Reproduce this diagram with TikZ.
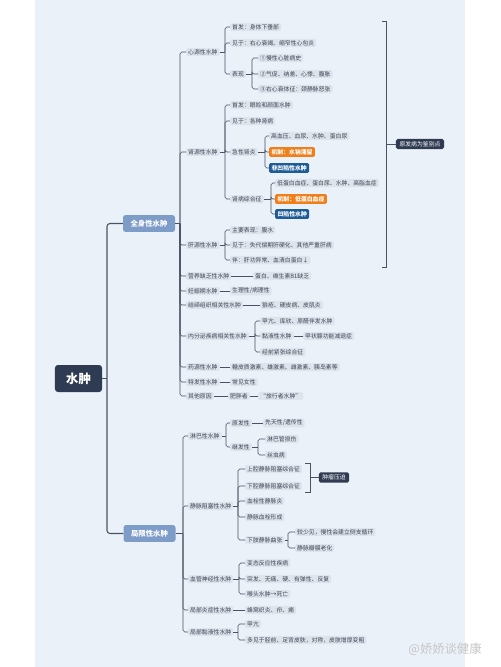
\documentclass[tikz,border=0pt]{standalone}
\usepackage{fontspec}
\setmainfont{Noto Sans CJK SC}
\usepackage{tikz}
\definecolor{panelbg}{HTML}{EBF1F8}
\definecolor{chipbg}{HTML}{DEE4EC}
\definecolor{inkgrey}{HTML}{3C4453}
\definecolor{linkgrey}{HTML}{4A5263}
\definecolor{rootnavy}{HTML}{2E3B52}
\definecolor{steelblue}{HTML}{7D9CC8}
\definecolor{mechorange}{HTML}{F07F1A}
\definecolor{pitblue}{HTML}{1D5C97}

\tikzset{
  chip/.style={anchor=west, fill=chipbg, text=inkgrey, rounded corners=1.2pt,
    inner xsep=1.7pt, inner ysep=1.1pt, font=\fontsize{5}{6}\selectfont},
  mech/.style={chip, fill=mechorange, text=white, inner xsep=2pt, inner ysep=1.8pt,
    font=\bfseries\fontsize{5}{6}\selectfont},
  pit/.style={mech, fill=pitblue},
  tag/.style={fill=rootnavy, text=white, rounded corners=1.5pt, inner xsep=3pt,
    inner ysep=2pt, font=\fontsize{5}{6}\selectfont},
  lvl1/.style={fill=steelblue, text=white, rounded corners=2pt, inner sep=0pt,
    minimum width=1.56cm, minimum height=0.5cm, font=\bfseries\fontsize{6.3}{7}\selectfont},
  root/.style={fill=rootnavy, text=white, rounded corners=2.5pt, inner sep=0pt,
    minimum width=1.41cm, minimum height=0.81cm, font=\bfseries\fontsize{10.5}{12}\selectfont},
  link/.style={draw=linkgrey, line width=0.55pt},
  trunk/.style={draw=linkgrey, line width=0.9pt}
}

\begin{document}
\begin{tikzpicture}[x=0.03cm, y=-0.03cm]
  \useasboundingbox (0,0) rectangle (500,667);
  \fill[panelbg] (35,0) rectangle (465,667);

  % root and first level
  \node[root] (sz) at (78.5,378.5) {水肿};
  \node[lvl1] (qs) at (149,223.5) {全身性水肿};
  \node[lvl1] (jx) at (149.5,533.5) {局限性水肿};

  % 全身性水肿
  \node[chip] (xy) at (186,52) {心源性水肿};
  \node[chip] (sy) at (186,152) {肾源性水肿};
  \node[chip] (gy) at (186,245) {肝源性水肿};
  \node[chip] (yy) at (186,276) {营养缺乏性水肿};
  \node[chip] (rs) at (186,291) {妊娠期水肿};
  \node[chip] (jd) at (186,305) {结缔组织相关性水肿};
  \node[chip] (nf) at (186,336) {内分泌疾病相关性水肿};
  \node[chip] (ywx) at (186,367) {药源性水肿};
  \node[chip] (tf) at (186,382) {特发性水肿};
  \node[chip] (qt) at (186,396) {其他原因};

  \node[chip] (xy1) at (230,27) {首发：身体下垂部};
  \node[chip] (xy2) at (230,43) {见于：右心衰竭、缩窄性心包炎};
  \node[chip] (xy3) at (230,74) {表现};
  \node[chip] (xy31) at (258,58) {①慢性心脏病史};
  \node[chip] (xy32) at (258,74) {②气促、纳差、心悸、腹胀};
  \node[chip] (xy33) at (258,89) {③右心衰体征：颈静脉怒张};

  \node[chip] (sy1) at (230,105) {首发：眼睑和颜面水肿};
  \node[chip] (sy2) at (230,121) {见于：各种肾病};
  \node[chip] (sy3) at (230,152) {急性肾炎};
  \node[chip] (sy4) at (230,199) {肾病综合征};
  \node[chip] (sy31) at (269,136) {高血压、血尿、水肿、蛋白尿};
  \node[mech] (sy32) at (269,152) {机制：水钠潴留};
  \node[pit] (sy33) at (269,168) {非凹陷性水肿};
  \node[chip] (sy41) at (275,183) {低蛋白血症、蛋白尿、水肿、高脂血症};
  \node[mech] (sy42) at (275,199) {机制：低蛋白血症};
  \node[pit] (sy43) at (275,214) {凹陷性水肿};

  \node[chip] (gy1) at (230,230) {主要表现：腹水};
  \node[chip] (gy2) at (230,245) {见于：失代偿期肝硬化、其他严重肝病};
  \node[chip] (gy3) at (230,260) {伴：肝功异常、血清白蛋白↓};

  \node[chip] (yy1) at (253,276) {蛋白、维生素B1缺乏};
  \node[chip] (rs1) at (230,291) {生理性/病理性};
  \node[chip] (jd1) at (260,305) {狼疮、硬皮病、皮肌炎};
  \node[chip] (nf1) at (260,321) {甲亢、库欣、原醛伴发水肿};
  \node[chip] (nf2) at (260,336) {黏液性水肿};
  \node[chip] (nf3) at (260,352) {经前紧张综合征};
  \node[chip] (nf21) at (303,336) {甲状腺功能减退症};
  \node[chip] (ywx1) at (230,367) {糖皮质激素、雄激素、雌激素、胰岛素等};
  \node[chip] (tf1) at (230,382) {常见女性};
  \node[chip] (qt1) at (228,396) {肥胖者};
  \node[chip] (qt2) at (258,396) {“旅行者水肿”};

  % 局限性水肿
  \node[chip] (lb) at (188,436) {淋巴性水肿};
  \node[chip] (jm) at (188,506) {静脉阻塞性水肿};
  \node[chip] (xg) at (188,579) {血管神经性水肿};
  \node[chip] (yz) at (188,610) {局部炎症性水肿};
  \node[chip] (nx) at (188,632) {局部黏液性水肿};

  \node[chip] (lb1) at (230,423) {原发性};
  \node[chip] (lb2) at (230,447) {继发性};
  \node[chip] (lb11) at (263,423) {先天性/遗传性};
  \node[chip] (lb21) at (265,439) {淋巴管损伤};
  \node[chip] (lb22) at (265,455) {丝虫病};

  \node[chip] (jm1) at (245,469) {上腔静脉阻塞综合征};
  \node[chip] (jm2) at (245,486) {下腔静脉阻塞综合征};
  \node[chip] (jm3) at (245,501) {血栓性静脉炎};
  \node[chip] (jm4) at (245,517) {静脉血栓形成};
  \node[chip] (jm5) at (245,540) {下肢静脉曲张};
  \node[chip] (jm51) at (295,532) {较少见，慢性会建立侧支循环};
  \node[chip] (jm52) at (295,548) {静脉瓣膜老化};

  \node[chip] (xg1) at (245,563) {变态反应性疾病};
  \node[chip] (xg2) at (245,579) {突发、无痛、硬、有弹性、反复};
  \node[chip] (xg3) at (245,594) {喉头水肿→死亡};
  \node[chip] (yz1) at (245,610) {蜂窝织炎、疖、痈};
  \node[chip] (nx1) at (245,624) {甲亢};
  \node[chip] (nx2) at (245,640) {多见于胫前、足背皮肤，对称，皮肤增厚变粗};

  % summary labels
  \node[tag] (jb) at (420,144) {原发病为鉴别点};
  \node[tag] (zl) at (334,477.5) {肿瘤压迫};

  % forks
  \coordinate (bus) at (107,0);
  \draw[trunk] (sz.east) -- (sz.east -| bus);
  \foreach \k in {qs,jx}
    \draw[trunk, rounded corners=2.5pt] (sz.east -| bus) |- (\k.west);

  \foreach \p/\bx/\kids in {qs/180/{xy,sy,gy,yy,rs,jd,nf,ywx,tf,qt},
      jx/183/{lb,jm,xg,yz,nx},
      xy/225/{xy1,xy2,xy3}, xy3/252/{xy31,xy32,xy33},
      sy/225/{sy1,sy2,sy3,sy4}, sy3/265/{sy31,sy32,sy33}, sy4/271/{sy41,sy42,sy43},
      gy/225/{gy1,gy2,gy3}, nf/255/{nf1,nf2,nf3},
      lb/226/{lb1,lb2}, lb2/258/{lb21,lb22},
      jm/238/{jm1,jm2,jm3,jm4,jm5}, jm5/288/{jm51,jm52},
      xg/239/{xg1,xg2,xg3}, nx/238/{nx1,nx2}} {
    \coordinate (bus) at (\bx,0);
    \draw[link] (\p.east) -- (\p.east -| bus);
    \foreach \k in \kids
      \draw[link, rounded corners=1.5pt] (\p.east -| bus) |- (\k.west);
  }

  \foreach \a/\b in {yy/yy1, rs/rs1, jd/jd1, nf2/nf21, ywx/ywx1, tf/tf1,
      qt/qt1, qt1/qt2, lb1/lb11, yz/yz1}
    \draw[link] (\a.east) -- (\b.west);

  % brackets
  \coordinate (brt) at (386,21);
  \coordinate (brb) at (386,267);
  \draw[link] (brt) ++(-4,0) -- (brt) -- (brb) -- ++(-4,0);
  \draw[link] (brt |- jb.west) -- (jb.west);
  \coordinate (sbt) at (310,463);
  \coordinate (sbb) at (310,492);
  \draw[link] (sbt) ++(-5,0) -- (sbt) -- (sbb) -- ++(-5,0);
  \draw[link] (sbt |- zl.west) -- (zl.west);

  \node[text=gray!45, font=\fontsize{10.5}{12}\selectfont] (wm) at (445,649) {@娇娇谈健康};
\end{tikzpicture}
\end{document}
